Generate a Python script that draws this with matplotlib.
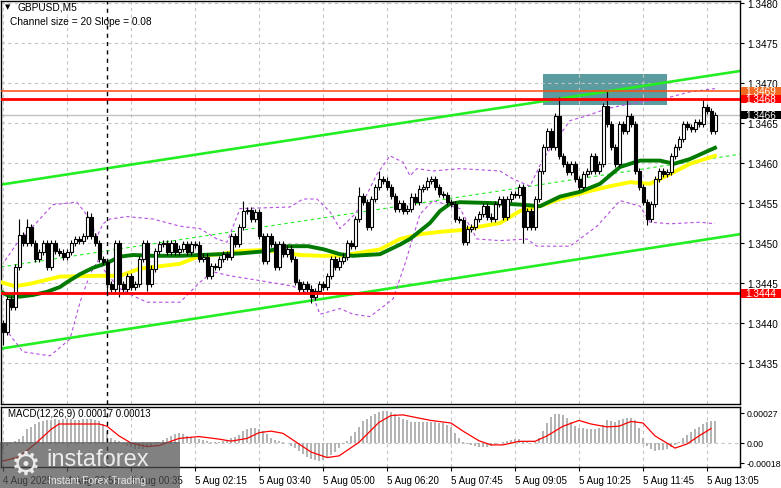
import numpy as np
import matplotlib
matplotlib.use('Agg')
import matplotlib.pyplot as plt
from matplotlib.patches import Rectangle
from matplotlib.transforms import blended_transform_factory

plt.rcParams['font.family'] = ['Liberation Sans', 'DejaVu Sans']

# ---- GBPUSD M5 candles (closes, one per bar) ----
open_first = 1.34400
closes = [
    1.34389, 1.34430, 1.34420, 1.34470, 1.34510, 1.34500, 1.34520, 1.34500, 1.34480, 1.34489,
    1.34500, 1.34470, 1.34500, 1.34490, 1.34488, 1.34483, 1.34489, 1.34500, 1.34505, 1.34503,
    1.34509, 1.34533, 1.34509, 1.34500, 1.34480, 1.34476, 1.34449, 1.34443, 1.34500, 1.34449,
    1.34443, 1.34459, 1.34445, 1.34449, 1.34480, 1.34500, 1.34449, 1.34468, 1.34490, 1.34499,
    1.34500, 1.34489, 1.34500, 1.34489, 1.34493, 1.34499, 1.34489, 1.34499, 1.34498, 1.34480,
    1.34483, 1.34459, 1.34471, 1.34470, 1.34480, 1.34486, 1.34483, 1.34509, 1.34499, 1.34520,
    1.34540, 1.34541, 1.34530, 1.34539, 1.34509, 1.34478, 1.34509, 1.34499, 1.34470, 1.34499,
    1.34486, 1.34493, 1.34480, 1.34451, 1.34443, 1.34449, 1.34443, 1.34433, 1.34440, 1.34449,
    1.34445, 1.34459, 1.34480, 1.34470, 1.34478, 1.34483, 1.34500, 1.34496, 1.34530, 1.34559,
    1.34551, 1.34520, 1.34555, 1.34570, 1.34580, 1.34578, 1.34570, 1.34559, 1.34543, 1.34550,
    1.34540, 1.34543, 1.34558, 1.34551, 1.34568, 1.34570, 1.34578, 1.34580, 1.34570, 1.34561,
    1.34560, 1.34551, 1.34549, 1.34530, 1.34529, 1.34501, 1.34518, 1.34520, 1.34530, 1.34536,
    1.34546, 1.34533, 1.34530, 1.34549, 1.34555, 1.34533, 1.34555, 1.34561, 1.34560, 1.34570,
    1.34520, 1.34540, 1.34520, 1.34555, 1.34590, 1.34620, 1.34640, 1.34620, 1.34659, 1.34609,
    1.34599, 1.34589, 1.34599, 1.34580, 1.34570, 1.34586, 1.34590, 1.34609, 1.34590, 1.34599,
    1.34671, 1.34649, 1.34620, 1.34599, 1.34649, 1.34640, 1.34659, 1.34649, 1.34590, 1.34570,
    1.34551, 1.34530, 1.34549, 1.34580, 1.34590, 1.34586, 1.34589, 1.34609, 1.34620, 1.34630,
    1.34649, 1.34645, 1.34643, 1.34651, 1.34649, 1.34670, 1.34665, 1.34640, 1.34660,
]
# long shadows that stand out on the chart (bar -> price)
high_marks = {4: 1.34530, 6: 1.34530, 21: 1.34540, 60: 1.34552, 89: 1.34570, 94: 1.34590,
              139: 1.34683, 151: 1.34690, 156: 1.34680, 175: 1.34680}
low_marks = {0: 1.34372, 26: 1.34435, 29: 1.34432, 36: 1.34440, 77: 1.34425,
             115: 1.34497, 130: 1.34500, 161: 1.34522}
wick = 0.00004

# ---- indicator lines: (bar, price) ----
ma_fast_bar = [-0.5, 1.75, 4.25, 7.5, 11, 14.25, 16, 19.25, 22.5, 26, 29.25, 32.5, 37.5, 44.25,
               59.25, 66.25, 71.25, 76.25, 80.25, 84.25, 87.5, 94.25, 99.25, 101.75, 104.25,
               106.75, 109.25, 111.75, 114.25, 121.75, 129.25, 134.25, 139.25, 144.25, 149.25,
               154.25, 159.25, 164.25, 167.75, 171.75, 178]
ma_fast_val = [1.34439, 1.34433, 1.34433, 1.34435, 1.34439, 1.34445, 1.34451, 1.34461, 1.34469,
               1.34475, 1.34483, 1.34485, 1.34484, 1.34484, 1.34487, 1.34490, 1.34496, 1.34496,
               1.34492, 1.34486, 1.34484, 1.34486, 1.34498, 1.34505, 1.34515, 1.34525, 1.34540,
               1.34549, 1.34551, 1.34550, 1.34548, 1.34546, 1.34558, 1.34564, 1.34574, 1.34595,
               1.34603, 1.34603, 1.34599, 1.34605, 1.34619]
ma_slow_bar = [-0.5, 3, 6.75, 14.25, 24.25, 29.25, 34.25, 44.25, 49.25, 54.25, 59.25, 64.25,
               69.25, 74.25, 79.25, 84.25, 89.25, 94.25, 99.25, 104.25, 109.25, 114.25, 117.5,
               124.25, 129.25, 134.25, 139.25, 146.75, 151.75, 156.75, 161.75, 166.75, 171.75, 178]
ma_slow_val = [1.34451, 1.34446, 1.34449, 1.34458, 1.34459, 1.34459, 1.34468, 1.34474, 1.34484,
               1.34486, 1.34490, 1.34491, 1.34489, 1.34485, 1.34484, 1.34484, 1.34488, 1.34492,
               1.34505, 1.34511, 1.34514, 1.34516, 1.34519, 1.34525, 1.34540, 1.34546, 1.34555,
               1.34565, 1.34571, 1.34576, 1.34574, 1.34586, 1.34599, 1.34609]
band_up_bar = [0.5, 4.25, 8.5, 12.5, 18.5, 21.25, 23.5, 25, 26.75, 31, 37.5, 44.25, 49.25, 53.5,
               56, 59.25, 71.75, 75, 78.5, 81.75, 84.25, 88, 91, 93.5, 96.75, 100, 101.75, 103.5,
               107.5, 114.25, 124.25, 127.5, 131.75, 135, 141.75, 146, 151, 156.75, 165, 171.75, 178]
band_up_val = [1.34478, 1.34505, 1.34526, 1.34548, 1.34551, 1.34533, 1.34508, 1.34524, 1.34530,
               1.34533, 1.34530, 1.34521, 1.34518, 1.34505, 1.34501, 1.34543, 1.34545, 1.34555,
               1.34555, 1.34539, 1.34518, 1.34536, 1.34561, 1.34586, 1.34609, 1.34601, 1.34584,
               1.34593, 1.34590, 1.34593, 1.34590, 1.34580, 1.34571, 1.34605, 1.34653, 1.34659,
               1.34668, 1.34674, 1.34680, 1.34689, 1.34693]
band_lo_bar = [0.5, 5, 11.75, 16.75, 19.25, 21.75, 23.75, 26, 29.25, 32.5, 36, 44.25, 49.25,
               52.5, 56.75, 64.25, 72.5, 77.5, 79.25, 84.25, 87.5, 91.75, 97.5, 100.5, 104.25,
               107.5, 114.25, 118.5, 124.25, 131, 133.5, 141.75, 148.5, 151.75, 154.25, 159.25,
               161.75, 166.75, 174.25, 178]
band_lo_val = [1.34393, 1.34364, 1.34359, 1.34380, 1.34426, 1.34461, 1.34478, 1.34461, 1.34443,
               1.34434, 1.34426, 1.34426, 1.34451, 1.34464, 1.34459, 1.34453, 1.34446, 1.34434,
               1.34411, 1.34418, 1.34411, 1.34408, 1.34430, 1.34474, 1.34536, 1.34553, 1.34543,
               1.34505, 1.34503, 1.34505, 1.34496, 1.34496, 1.34521, 1.34539, 1.34553, 1.34546,
               1.34526, 1.34524, 1.34526, 1.34524]

# regression channel ends (left edge, right edge)
chan_bar = [-0.5, 184.25]
chan_upper = [1.34573, 1.34715]
chan_mid = [1.34470, 1.34611]
chan_lower = [1.34368, 1.34511]

levels = [1.34690, 1.34680, 1.34437]
level_colors = ['#ff4a10', '#ff0000', '#ff0000']
level_labels = ['1.3469', '1.3468', '1.3444']
last_price = 1.34660
box_bars = [135, 166]
box_prices = [1.34672, 1.34711]
marker_bar = 26

# ---- MACD(12,26,9): main histogram (x1e-5) and signal points ----
macd_hist = [
    -6, -3, 0, 2, 4, 6.4, 12.2, 14.5, 17.1, 18.9, 20.0, 20.9, 20.9, 21.5, 20.9, 21.5, 21.8, 21.5,
    20.9, 20.9, 21.5, 21.8, 21.5, 20.3, 19.5, 17.4, 10.7, 4.9, 2.9, 1.7, -0.9, -2.3, -3.8, -5.2,
    -5.8, -5.2, -3.8, -2.3, -0.9, 1.2, 2.6, 4.4, 6.4, 7.8, 9.0, 8.4, 6.4, 5.2, 4.1, 3.2, 2.6, 1.7,
    0.9, 0.6, 0.6, 1.5, 2.6, 4.1, 5.8, 7.5, 10.7, 12.2, 13.4, 13.6, 12.8, 10.7, 7.8, 4.9, 2.9, 1.7,
    0.6, -0.3, -2.3, -4.6, -7.5, -9.9, -12.5, -14.2, -15.7, -16.3, -15.7, -13.9, -11.0, -8.1, -4.6,
    -1.2, 2.0, 6.4, 9.9, 14.2, 19.5, 21.5, 24.4, 26.1, 27.6, 28.4, 29.0, 27.9, 26.1, 23.8, 21.8,
    20.3, 19.2, 18.6, 18.6, 18.6, 18.6, 18.6, 18.6, 18.3, 18.0, 16.5, 14.2, 9.3, 4.6, 1.2, -0.9,
    -2.0, -2.6, -3.5, -3.8, -3.8, -2.3, -0.9, 0.3, 0.9, 1.5, 2.3, 3.5, 3.5, 1.7, 0.6, 0.0, 0.6,
    4.9, 10.7, 18.0, 23.8, 26.1, 26.1, 25.3, 22.4, 18.6, 15.7, 13.6, 13.1, 12.8, 12.5, 12.2, 13.4,
    16.5, 20.3, 19.7, 19.2, 20.9, 21.5, 22.4, 22.9, 20.9, 13.6, 4.9, -2.3, -5.8, -7.0, -6.7, -6.1,
    -5.2, -3.8, -1.7, 1.2, 4.1, 7.0, 9.9, 12.2, 14.5, 16.8, 19.2, 19.7, 20.0,
]
signal_bar = [0, 4, 8, 12, 14, 24, 26, 29, 32, 36, 39, 44, 49, 54, 57, 61, 64, 67, 70, 74, 77,
              81, 84, 89, 94, 97, 100, 104, 107, 112, 115, 119, 122, 125, 129, 133, 136, 140,
              144, 147, 151, 154, 157, 160, 163, 167, 168, 171, 174, 177]
signal_val = [-16.3, -12.5, -0.9, 12.2, 17.1, 17.1, 15.1, 6.4, 0.0, -3.2, -2.3, 4.1, 5.8, 3.5,
              1.7, 4.1, 9.3, 10.7, 8.7, -0.9, -8.1, -13.1, -11.6, 0.6, 18.6, 24.7, 25.3, 22.4,
              20.3, 18.0, 10.7, 2.0, -1.7, -1.7, 1.5, 1.5, 6.4, 15.1, 20.3, 17.1, 14.5, 15.1,
              19.4, 18.0, 6.4, -2.3, -4.6, -0.9, 6.4, 13.0]

xtick_bars = [0, 16, 32, 48, 64, 80, 96, 112, 128, 144, 160, 176]
xtick_labels = ['4 Aug 2025', '4 Aug 22:55', '5 Aug 00:35', '5 Aug 02:15', '5 Aug 03:40',
                '5 Aug 05:00', '5 Aug 06:20', '5 Aug 07:45', '5 Aug 09:05', '5 Aug 10:25',
                '5 Aug 11:45', '5 Aug 13:05']
price_ticks = [1.3435, 1.3440, 1.3445, 1.3450, 1.3455, 1.3460, 1.3465, 1.3470, 1.3475, 1.3480]

W, H = 781, 489
fig = plt.figure(figsize=(W / 100, H / 100), dpi=100)
fig.patch.set_facecolor('white')


def px_axes(x0, y0, x1, y1):
    return fig.add_axes([x0 / W, 1 - y1 / H, (x1 - x0) / W, (y1 - y0) / H])


ax = px_axes(1, 2, 740, 405)
ax2 = px_axes(1, 408, 740, 468)
grid_kw = dict(color='#c4c4c4', lw=0.8, ls=(0, (3, 3)), zorder=0.8)

# main panel
ax.set_xlim(-0.5, 184.25)
ax.set_ylim(1.3429875, 1.348025)
for p in price_ticks:
    ax.axhline(p, **grid_kw)
for b in xtick_bars:
    ax.axvline(b, **grid_kw)

ax.add_patch(Rectangle((box_bars[0], box_prices[0]), box_bars[1] - box_bars[0],
                       box_prices[1] - box_prices[0], fc='#5b9ca1', ec='none', zorder=0.5))
ax.plot(chan_bar, chan_upper, color='#22ee22', lw=1.9, zorder=2)
ax.plot(chan_bar, chan_lower, color='#22ee22', lw=1.9, zorder=2)
ax.plot(chan_bar, chan_mid, color='#22ee22', lw=0.8, ls=(0, (3, 3)), zorder=2)
ax.plot(band_up_bar, band_up_val, color='#b44fe0', lw=0.8, ls=(0, (3, 2.5)), zorder=2.5)
ax.plot(band_lo_bar, band_lo_val, color='#b44fe0', lw=0.8, ls=(0, (3, 2.5)), zorder=2.5)
ax.plot(ma_slow_bar, ma_slow_val, color='#ffff00', lw=2.8, zorder=3)
ax.plot(ma_fast_bar, ma_fast_val, color='#007a00', lw=2.8, zorder=3.2)

c = np.array(closes)
o = np.r_[open_first, c[:-1]]
bars = np.arange(len(c))
hi = np.maximum(o, c) + wick
lo = np.minimum(o, c) - wick
for k, v in high_marks.items():
    hi[k] = v
for k, v in low_marks.items():
    lo[k] = v
ax.vlines(bars, lo, hi, color='black', lw=0.8, zorder=4)
body = np.maximum(np.abs(c - o), 0.000012)
fc = np.where(c >= o, 'white', 'black')
ax.bar(bars, body, bottom=np.minimum(o, c), width=0.75, color=fc, edgecolor='black',
       lw=0.8, zorder=5)

ax.axhline(last_price, color='#c0c0c0', lw=1, zorder=1)
for lv, col in zip(levels, level_colors):
    ax.axhline(lv, color=col, lw=2 if col == '#ff0000' else 1.1, zorder=6)
ax.axvline(marker_bar, color='black', lw=1, ls=(0, (3, 3)), zorder=6)

ax.yaxis.tick_right()
ax.set_yticks(price_ticks)
ax.set_yticklabels(['%.4f' % p for p in price_ticks])
ax.tick_params(axis='y', labelsize=7.2, length=3, pad=2)
ax.set_xticks([])

# price tags on the right scale, stacked so each later tag covers the one before
tr = blended_transform_factory(ax.transAxes, ax.transData)
box_h = 0.000108
tags = [(levels[0], '#f26a22', level_labels[0]),
        (levels[1], '#ff0000', level_labels[1]),
        (last_price, '#000000', '%.4f' % last_price),
        (levels[2], '#ff0000', level_labels[2])]
for k, (lv, col, lab) in enumerate(tags):
    z = 20 + 2 * k
    ax.add_patch(Rectangle((1.0015, lv - box_h / 2), 0.056, box_h, transform=tr, fc=col,
                           ec='none', clip_on=False, zorder=z))
    ax.text(1.007, lv, lab, transform=tr, color='white', fontsize=7.2, va='center',
            ha='left', clip_on=False, zorder=z + 1)

# MACD panel
ax2.set_xlim(-0.5, 184.25)
ax2.set_ylim(-0.000216, 0.000324)
ax2.axhline(0, **grid_kw)
for b in xtick_bars:
    ax2.axvline(b, **grid_kw)
ax2.bar(bars, np.array(macd_hist) * 1e-5, width=0.7, color='#b4b4b4', zorder=2)
ax2.plot(signal_bar, np.array(signal_val) * 1e-5, color='#ff0000', lw=0.9, zorder=3)
ax2.axvline(marker_bar, color='black', lw=1, ls=(0, (3, 3)), zorder=6)
ax2.yaxis.tick_right()
ax2.set_yticks([0.00027, 0, -0.00018])
ax2.set_yticklabels(['0.00027', '0.00', '-0.00018'])
ax2.tick_params(axis='y', labelsize=6.3, length=3, pad=2)
ax2.set_xticks(xtick_bars)
ax2.set_xticklabels(xtick_labels, ha='left')
ax2.tick_params(axis='x', labelsize=7, length=3, pad=3)
ax2.text(0.009, 0.9, 'MACD(12,26,9) 0.00017 0.00013', transform=ax2.transAxes,
         fontsize=7, va='center', ha='left')

for a in (ax, ax2):
    for s in a.spines.values():
        s.set_color('black')
        s.set_linewidth(1)

# header
fig.text(5 / W, 1 - 7 / H, '\u25bc', fontsize=5, family='DejaVu Sans', va='center')
fig.text(17 / W, 1 - 7.5 / H, 'GBPUSD,M5', fontsize=7.3, va='center')
fig.text(10 / W, 1 - 22 / H, 'Channel size = 20 Slope = 0.08', fontsize=7.3, va='center')

# watermark
fig.patches.append(Rectangle((0, 0), 180 / W, 46 / H, transform=fig.transFigure,
                             fc='#505050', ec='none', alpha=0.72, zorder=30))
fig.text(26 / W, 1 - 465 / H, '\u2699', fontsize=24, family='DejaVu Sans', color='white',
         alpha=0.85, ha='center', va='center', zorder=31)
fig.text(46 / W, 1 - 460 / H, 'instaforex', fontsize=17, color='white', alpha=0.85,
         ha='left', va='center', zorder=31)
fig.text(48 / W, 1 - 481 / H, 'Instant Forex Trading', fontsize=7.5, color='white',
         alpha=0.8, ha='left', va='center', zorder=31)

fig.savefig('out.png', dpi=100)
